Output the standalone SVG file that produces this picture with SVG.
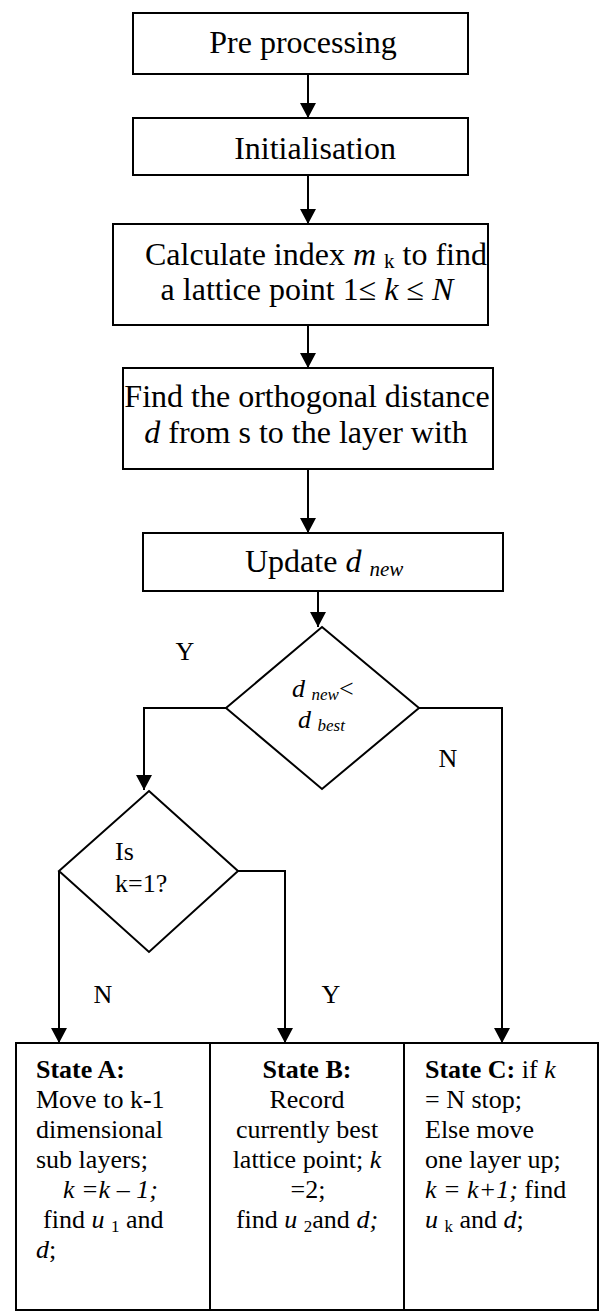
<svg xmlns="http://www.w3.org/2000/svg" width="604" height="1313" viewBox="0 0 604 1313">
  <style>
    .box { fill: #ffffff; stroke: #000000; stroke-width: 2; }
    .wire { fill: none; stroke: #000000; stroke-width: 2; }
    .t { font-family: "Liberation Serif", "Times New Roman", serif; fill: #000000; }
    .big { font-size: 32px; }
    .med { font-size: 26px; }
    .i { font-style: italic; }
    .b { font-weight: bold; }
    .subL { font-size: 21px; }
    .subM { font-size: 17px; }
  </style>
  <defs>
    <marker id="arrow" markerUnits="userSpaceOnUse" markerWidth="16" markerHeight="16" refX="15" refY="8" orient="auto">
      <path d="M0,0 L15,8 L0,16 Z" fill="#000000"/>
    </marker>
  </defs>

  <rect width="604" height="1313" fill="#ffffff"/>

  <!-- connectors -->
  <g id="connectors" class="wire">
    <line x1="308" y1="74" x2="308" y2="118" marker-end="url(#arrow)"/>
    <line x1="308" y1="175" x2="308" y2="224" marker-end="url(#arrow)"/>
    <line x1="308" y1="325" x2="308" y2="368" marker-end="url(#arrow)"/>
    <line x1="308" y1="469" x2="308" y2="533" marker-end="url(#arrow)"/>
    <line x1="318" y1="591" x2="318" y2="627" marker-end="url(#arrow)"/>
    <polyline points="226,708 144,708 144,790" marker-end="url(#arrow)"/>
    <polyline points="419,708 502,708 502,1043" marker-end="url(#arrow)"/>
    <line x1="59" y1="871" x2="59" y2="1043" marker-end="url(#arrow)"/>
    <polyline points="238,871 285,871 285,1043" marker-end="url(#arrow)"/>
  </g>

  <!-- branch labels -->
  <g id="labels" class="t med" text-anchor="middle">
    <text x="185" y="660">Y</text>
    <text x="448" y="767">N</text>
    <text x="103" y="1003">N</text>
    <text x="331" y="1003">Y</text>
  </g>

  <g id="preprocessing">
    <rect class="box" x="133" y="13" width="335" height="61"/>
    <text class="t big" x="303" y="53" text-anchor="middle">Pre processing</text>
  </g>

  <g id="initialisation">
    <rect class="box" x="133" y="118" width="335" height="57"/>
    <text class="t big" x="315" y="159" text-anchor="middle">Initialisation</text>
  </g>

  <g id="calculate-index">
    <rect class="box" x="113" y="224" width="375" height="101"/>
    <text class="t big" x="316" y="265" text-anchor="middle">Calculate index <tspan class="i">m</tspan> <tspan class="subL" dy="3">k</tspan><tspan dy="-3"> to find</tspan></text>
    <text class="t big" x="307" y="300" text-anchor="middle">a lattice point  1≤ <tspan class="i">k</tspan> ≤ <tspan class="i">N</tspan></text>
  </g>

  <g id="find-distance">
    <rect class="box" x="123" y="368" width="370" height="101"/>
    <text class="t big" x="307" y="407" text-anchor="middle">Find the orthogonal distance</text>
    <text class="t big" x="306" y="443" text-anchor="middle"><tspan class="i">d</tspan> from s to the layer with</text>
  </g>

  <g id="update">
    <rect class="box" x="143" y="533" width="360" height="58"/>
    <text class="t big" x="245" y="572">Update <tspan class="i">d</tspan> <tspan class="i subL" dy="4">new</tspan></text>
  </g>

  <g id="decision-best">
    <polygon class="box" points="322,627 419,708 322,789 226,708"/>
    <text class="t med" x="292" y="697"><tspan class="i">d</tspan> <tspan class="i subM" dy="3">new</tspan><tspan dy="-3">&lt;</tspan></text>
    <text class="t med" x="298" y="728"><tspan class="i">d</tspan> <tspan class="i subM" dy="3">best</tspan></text>
  </g>

  <g id="decision-k1">
    <polygon class="box" points="149,791 238,871 149,952 59,871"/>
    <text class="t med" x="115" y="860">Is</text>
    <text class="t med" x="115" y="892">k=1?</text>
  </g>

  <g id="state-a">
    <rect class="box" x="16" y="1043" width="194" height="267"/>
    <text class="t med" x="36" y="1078"><tspan class="b">State A:</tspan></text>
    <text class="t med" x="36" y="1108">Move to k-1</text>
    <text class="t med" x="36" y="1138">dimensional</text>
    <text class="t med" x="36" y="1168">sub layers;</text>
    <text class="t med i" x="63" y="1198">k =k – 1;</text>
    <text class="t med" x="43" y="1228">find <tspan class="i">u</tspan> <tspan class="subM" dy="4">1</tspan><tspan dy="-4"> and</tspan></text>
    <text class="t med" x="36" y="1258"><tspan class="i">d</tspan>;</text>
  </g>

  <g id="state-b">
    <rect class="box" x="210" y="1043" width="194" height="267"/>
    <g class="t med" text-anchor="middle">
      <text x="307" y="1078"><tspan class="b">State B:</tspan></text>
      <text x="307" y="1108">Record</text>
      <text x="307" y="1138">currently best</text>
      <text x="307" y="1168">lattice point; <tspan class="i">k</tspan></text>
      <text x="308" y="1198">=2;</text>
      <text x="307" y="1228">find <tspan class="i">u</tspan> <tspan class="subM" dy="4">2</tspan><tspan dy="-4">and </tspan><tspan class="i">d;</tspan></text>
    </g>
  </g>

  <g id="state-c">
    <rect class="box" x="404" y="1043" width="194" height="267"/>
    <text class="t med" x="425" y="1078"><tspan class="b">State C:</tspan> if <tspan class="i">k</tspan></text>
    <text class="t med" x="425" y="1108">= N stop;</text>
    <text class="t med" x="425" y="1138">Else move</text>
    <text class="t med" x="425" y="1168">one layer up;</text>
    <text class="t med" x="425" y="1198"><tspan class="i">k = k+1;</tspan> find</text>
    <text class="t med" x="425" y="1228"><tspan class="i">u</tspan> <tspan class="subM" dy="4">k</tspan><tspan dy="-4"> and </tspan><tspan class="i">d</tspan>;</text>
  </g>
</svg>
